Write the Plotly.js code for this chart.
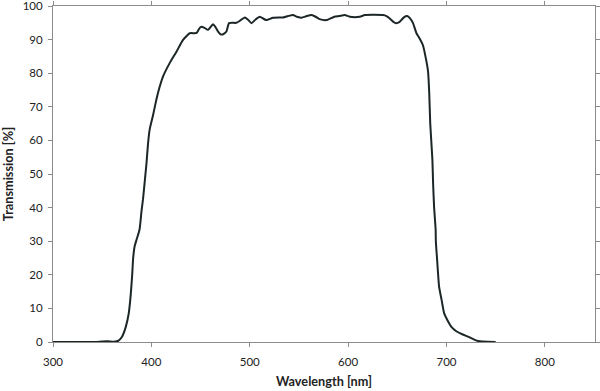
<!DOCTYPE html>
<html>
<head>
<meta charset="utf-8">
<script src="https://cdn.plot.ly/plotly-3.0.1.min.js"></script>
<style>html,body{margin:0;padding:0;background:#fff}#chart{width:600px;height:391px}</style>
</head>
<body>
<div id="chart"></div>
<script>
const wavelength = [300,320,340,355,362,366,370,374,377,379,380.5,381.5,383,385,388,390,391.5,393,395,396.6,398.3,401.7,405,408,411.8,418.6,425.5,432.2,439,444,446,449,451,454,457.6,462.7,465,467.8,471,473,476.3,479,486.5,490,494.9,498,501.7,506,510.2,514,517,523.7,533.9,539,544,548,552.6,558,563,567,571,578,586,591,596.6,601.7,611.8,617,635.5,639,642.3,646,649,652,654,657,660,663,666,669.5,673,676,679,681.3,682.5,683.5,685.7,686.4,687.4,689,689.2,690.5,692.5,695,697.6,701.7,705,710,716,723.7,730,734,742,750];
const transmission = [0,0,0,0.2,0.1,0.3,1.5,4.5,8.5,14,20,25,28.5,30.5,33.5,39,42.5,47,53,59,63.3,67.5,72,75.5,79,83,86.4,89.9,91.9,91.9,92,93.4,93.8,93.5,92.9,94.6,93.8,92.4,91.5,91.6,92.4,94.9,95.0,95.6,96.6,96,94.9,96,96.8,96.2,95.8,96.5,96.6,97,97.3,96.8,96.5,97,97.3,96.8,96.1,95.8,96.8,97,97.3,96.8,96.8,97.3,97.3,97,96.3,95.3,94.9,95.2,95.8,96.7,97,96.3,94.9,91.9,90.2,88.4,84.5,80.5,74,65,54.2,47.3,40.3,33.4,30,24.5,16.5,12.6,8.6,6.1,4.5,3.2,2.3,1.4,0.5,0.2,0.05,0];
const xTicks = [300,400,500,600,700,800];
const yTicks = [0,10,20,30,40,50,60,70,80,90,100];

const font = 'Lato, "Open Sans", "Liberation Sans", sans-serif';
Plotly.newPlot('chart', [{
  x: wavelength, y: transmission, type: 'scatter', mode: 'lines',
  line: {color: '#1c2626', width: 2, shape: 'spline', smoothing: 0.5},
  hoverinfo: 'skip'
}], {
  width: 600, height: 391,
  margin: {l: 53, r: 5, t: 6, b: 49},
  paper_bgcolor: '#fff', plot_bgcolor: '#fff',
  showlegend: false,
  font: {family: font, size: 11, color: '#222'},
  xaxis: {
    range: [300, 851], tickvals: xTicks, ticktext: xTicks.map(String),
    showgrid: false, zeroline: false, showline: true, linecolor: '#8c8c8c', linewidth: 1,
    ticks: 'outside', ticklen: 4, tickcolor: '#8c8c8c', mirror: 'ticks',
    ticklabelstandoff: 5, ticklabeloverflow: 'allow',
    tickfont: {family: font, size: 11.5, color: '#222'},
    title: {text: 'Wavelength [nm]', font: {family: font, size: 12.7, color: '#222', weight: 'bold'}, standoff: 10}
  },
  yaxis: {
    range: [0, 100], tickvals: yTicks, ticktext: yTicks.map(String),
    showgrid: false, zeroline: false, showline: true, linecolor: '#8c8c8c', linewidth: 1,
    ticks: 'outside', ticklen: 4, tickcolor: '#8c8c8c', mirror: 'ticks',
    ticklabelstandoff: 3, ticklabeloverflow: 'allow',
    tickfont: {family: font, size: 11.5, color: '#222'},
    title: {text: 'Transmission [%]', font: {family: font, size: 12.7, color: '#222', weight: 'bold'}, standoff: 14}
  }
}, {staticPlot: true, displayModeBar: false});
</script>
</body>
</html>
